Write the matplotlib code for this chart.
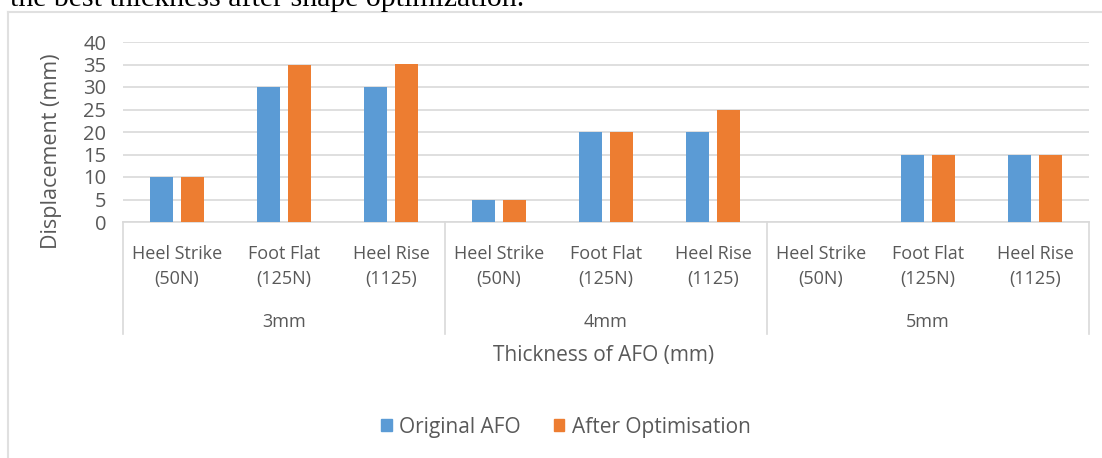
import matplotlib
matplotlib.use("Agg")
import numpy as np
import matplotlib.pyplot as plt
from matplotlib.lines import Line2D
from matplotlib.patches import Rectangle
import matplotlib.transforms as mtransforms

# --- Data ---
thickness = ["3mm", "4mm", "5mm"]
phases = ["Heel Strike\n(50N)", "Foot Flat\n(125N)", "Heel Rise\n(1125)"]
original_afo = [10, 30, 30, 5, 20, 20, 0, 15, 15]
after_opt = [10, 34.8, 35.1, 5, 20, 24.8, 0, 15, 15]

BLUE = "#5B9BD5"
ORANGE = "#ED7D31"
GRID = "#D9D9D9"
TXT = "#595959"
W, H = 1102, 458

plt.rcParams['font.family'] = ['Open Sans', 'DejaVu Sans']

fig = plt.figure(figsize=(W / 100, H / 100), dpi=100)
ax = fig.add_axes([123 / W, 1 - 222 / H, (1089 - 123) / W, 180 / H])

n = len(original_afo)
x = np.arange(n)
bw = 0.214
off = 0.144
ax.bar(x - off, original_afo, bw, color=BLUE, zorder=3)
ax.bar(x + off, after_opt, bw, color=ORANGE, zorder=3)

ax.set_xlim(-0.5, n - 0.5)
ax.set_ylim(0, 40)
ax.set_yticks(range(0, 41, 5))
ax.tick_params(axis='y', length=0, labelsize=14.5, colors=TXT, pad=12)
ax.set_xticks([])
ax.grid(axis='y', color=GRID, lw=1.2, zorder=0)
for s in ["top", "right", "left"]:
    ax.spines[s].set_visible(False)
ax.spines["bottom"].set_color(GRID)
ax.spines["bottom"].set_linewidth(1.2)
ax.set_ylabel("Displacement (mm)", fontsize=15.5, color=TXT)
ax.yaxis.set_label_coords(62 / W, 1 - 151 / H, transform=fig.transFigure)

# multi-level category labels
trans = mtransforms.blended_transform_factory(ax.transData, ax.transAxes)
px = 1 / 180  # one pixel in axes fraction (vertical)
for i in range(n):
    ax.text(x[i], -44.5 * px, phases[i % 3], transform=trans, ha='center',
            va='center', fontsize=13, color=TXT, linespacing=1.5)
for g, name in enumerate(thickness):
    ax.text(g * 3 + 1, -100 * px, name, transform=trans, ha='center',
            va='center', fontsize=13, color=TXT)
for b in range(len(thickness) + 1):
    ax.add_line(Line2D([b * 3 - 0.5, b * 3 - 0.5], [0, -112 * px], transform=trans,
                       color=GRID, lw=1.2, clip_on=False))

fig.text(604 / W, 1 - 355 / H, "Thickness of AFO (mm)", ha='center', va='center',
         fontsize=15, color=TXT)

# legend
handles = [Rectangle((0, 0), 1, 1, color=BLUE), Rectangle((0, 0), 1, 1, color=ORANGE)]
fig.legend(handles, ["Original AFO", "After Optimisation"], loc='center',
           bbox_to_anchor=(566 / W, 1 - 427 / H), ncol=2, frameon=False,
           fontsize=15, labelcolor=TXT, handlelength=0.5, handleheight=0.5,
           handletextpad=0.35, columnspacing=1.6)

# chart frame (partly cropped) and clipped caption text above it
fig.add_artist(Line2D([8 / W, 8 / W], [0, 1 - 12 / H], transform=fig.transFigure,
                      color="#E0E0E0", lw=1.5))
fig.add_artist(Line2D([8 / W, 1], [1 - 12 / H, 1 - 12 / H], transform=fig.transFigure,
                      color="#E0E0E0", lw=1.5))
fig.text(10 / W, 1 - 6.5 / H, "the best thickness after shape optimization.",
         ha='left', va='baseline', fontsize=21.5, family='Liberation Serif', color='black')

fig.savefig("out.png", dpi=100)
